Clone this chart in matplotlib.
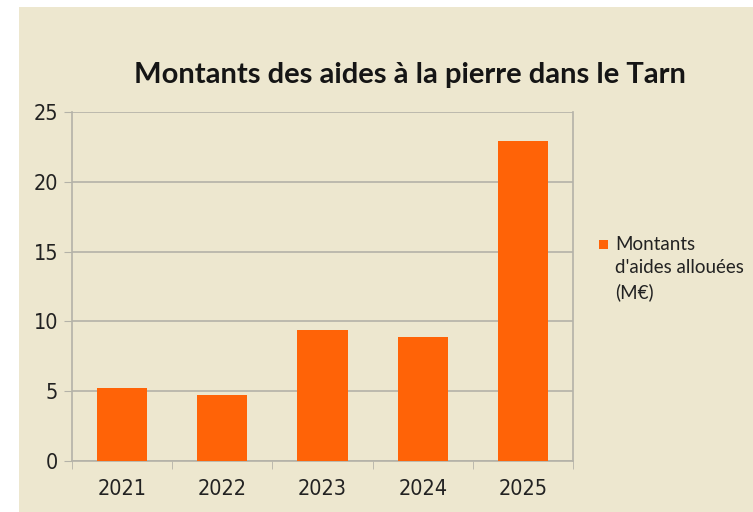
import matplotlib.pyplot as plt
from matplotlib.patches import Rectangle

years = ["2021", "2022", "2023", "2024", "2025"]
montants = [5.2, 4.7, 9.4, 8.9, 22.9]
yticks = [0, 5, 10, 15, 20, 25]

beige = "#ede7cf"
orange = "#ff6307"
grid_col = "#b4b2a8"

fig = plt.figure(figsize=(7.53, 5.12), dpi=100, facecolor="white")
# beige panel, with the white margin on top and left
fig.patches.append(Rectangle((19 / 753, 0), 1, 1 - 7 / 512, transform=fig.transFigure,
                             facecolor=beige, edgecolor="none", zorder=-10))

ax = fig.add_axes([72 / 753, 1 - 461 / 512, (573 - 72) / 753, (461 - 112) / 512])
ax.set_facecolor("none")

x = range(len(years))
ax.bar(x, montants, width=0.5, color=orange, zorder=3)

ax.set_xlim(-0.5, len(years) - 0.5)
ax.set_ylim(0, 25)
ax.set_yticks(yticks)
ax.set_yticklabels([str(v) for v in yticks])
ax.set_xticks(list(x))
ax.set_xticklabels(years)
ax.tick_params(axis="x", length=0, pad=13)
ax.tick_params(axis="y", length=6, color=grid_col, pad=4)
# boundary ticks between categories
ax.set_xticks([i - 0.5 for i in range(len(years) + 1)], minor=True)
ax.tick_params(axis="x", which="minor", length=6, color=grid_col)

for lab in ax.get_xticklabels() + ax.get_yticklabels():
    lab.set_family("DejaVu Sans")
    lab.set_stretch("condensed")
    lab.set_fontsize(15.5)
    lab.set_color("#222222")

ax.yaxis.grid(True, color=grid_col, linewidth=1.2, zorder=0)
ax.set_axisbelow(True)
ax.spines["top"].set_visible(False)
for side in ["left", "bottom", "right"]:
    ax.spines[side].set_color(grid_col)
    ax.spines[side].set_linewidth(1.2)

fig.text(410 / 753, 1 - 75 / 512, "Montants des aides à la pierre dans le Tarn",
         ha="center", va="center", fontsize=21, family=["Lato", "DejaVu Sans"],
         weight="bold", color="#151515")

# legend: orange square + three-line label
fig.patches.append(Rectangle((599 / 753, 1 - 249 / 512), 9 / 753, 9 / 512,
                             transform=fig.transFigure, facecolor=orange,
                             edgecolor="none"))
fig.text(615 / 753, 1 - 236 / 512, "Montants\nd'aides allouées\n(M€)",
         ha="left", va="top", fontsize=13.5, linespacing=1.45,
         family=["Lato", "DejaVu Sans"], color="#222222")

fig.savefig("out.png", dpi=100, facecolor=fig.get_facecolor())
